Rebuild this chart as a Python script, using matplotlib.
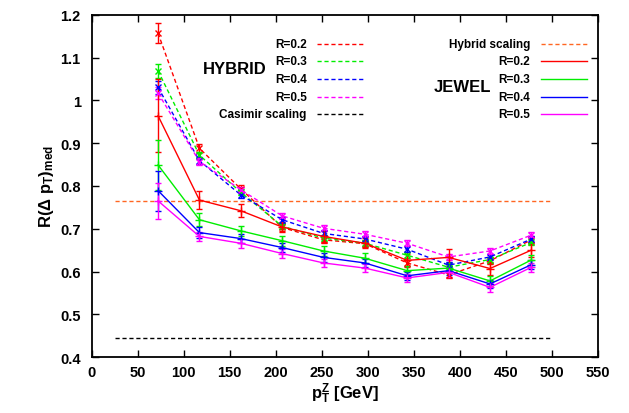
import numpy as np
import matplotlib
matplotlib.use("Agg")
import matplotlib.pyplot as plt

plt.rcParams['font.family'] = ['Liberation Sans', 'DejaVu Sans']
plt.rcParams['font.weight'] = 'bold'
plt.rcParams['mathtext.fontset'] = 'custom'
plt.rcParams['mathtext.rm'] = 'Liberation Sans:bold'
plt.rcParams['mathtext.it'] = 'Liberation Sans:bold'
plt.rcParams['mathtext.bf'] = 'Liberation Sans:bold'
plt.rcParams['mathtext.default'] = 'bf'

# pT^Z bin centres
pt = [72, 117, 162, 207, 252, 297, 343, 388, 433, 478]

# HYBRID model (dashed, x markers)
hyb_r02 = [1.157, 0.888, 0.793, 0.703, 0.674, 0.665, 0.620, 0.592, 0.625, 0.674]
hyb_r03 = [1.069, 0.872, 0.785, 0.706, 0.678, 0.666, 0.638, 0.610, 0.628, 0.668]
hyb_r04 = [1.030, 0.859, 0.779, 0.721, 0.689, 0.676, 0.652, 0.615, 0.634, 0.676]
hyb_r05 = [1.017, 0.857, 0.791, 0.730, 0.701, 0.687, 0.666, 0.634, 0.648, 0.685]
hyb_err02 = [0.024, 0.010, 0.008, 0.008, 0.008, 0.008, 0.008, 0.008, 0.008, 0.008]
hyb_err03 = [0.017, 0.008, 0.007, 0.007, 0.007, 0.007, 0.007, 0.007, 0.007, 0.007]
hyb_err04 = [0.015, 0.008, 0.007, 0.007, 0.007, 0.007, 0.007, 0.007, 0.007, 0.007]
hyb_err05 = [0.015, 0.008, 0.007, 0.007, 0.007, 0.007, 0.007, 0.007, 0.007, 0.007]

# JEWEL (solid, + markers)
jew_r02 = [0.964, 0.767, 0.742, 0.704, 0.682, 0.666, 0.626, 0.633, 0.607, 0.650]
jew_r03 = [0.849, 0.721, 0.695, 0.672, 0.648, 0.631, 0.602, 0.608, 0.578, 0.627]
jew_r04 = [0.789, 0.691, 0.677, 0.656, 0.633, 0.620, 0.590, 0.602, 0.571, 0.616]
jew_r05 = [0.765, 0.682, 0.666, 0.642, 0.620, 0.608, 0.585, 0.598, 0.563, 0.610]
jew_err02 = [0.085, 0.020, 0.015, 0.012, 0.012, 0.012, 0.015, 0.020, 0.015, 0.015]
jew_err03 = [0.058, 0.015, 0.012, 0.012, 0.012, 0.012, 0.012, 0.012, 0.012, 0.012]
jew_err04 = [0.047, 0.012, 0.010, 0.010, 0.010, 0.010, 0.010, 0.010, 0.010, 0.010]
jew_err05 = [0.042, 0.010, 0.010, 0.010, 0.010, 0.010, 0.010, 0.010, 0.010, 0.010]

# reference levels
scaling_x = [25, 500]
hybrid_scaling = 0.764
casimir_scaling = 0.444

labels = ['R=0.2', 'R=0.3', 'R=0.4', 'R=0.5']
colors = ['#ff0000', '#00ee00', '#0000ff', '#ff00ff']
dash = (0, (3, 2))

fig = plt.figure(figsize=(6.29, 4.14), dpi=100)
ax = fig.add_axes([0.146, 0.135, 0.804, 0.827])

hyb = [hyb_r02, hyb_r03, hyb_r04, hyb_r05]
hyb_err = [hyb_err02, hyb_err03, hyb_err04, hyb_err05]
jew = [jew_r02, jew_r03, jew_r04, jew_r05]
jew_err = [jew_err02, jew_err03, jew_err04, jew_err05]

# reference lines
ax.plot(scaling_x, [hybrid_scaling] * 2, color='#ff6622', lw=1, ls=dash)
ax.plot(scaling_x, [casimir_scaling] * 2, color='black', lw=1, ls=dash)

for y, e, c in zip(hyb, hyb_err, colors):
    ax.errorbar(pt, y, yerr=e, color=c, ls=dash, lw=1, marker='x', ms=5,
                mew=1, capsize=2.5, elinewidth=1)
for y, e, c in zip(jew, jew_err, colors):
    ax.errorbar(pt, y, yerr=e, color=c, ls='-', lw=1, marker='+', ms=6,
                mew=1, capsize=2.5, elinewidth=1)

ax.set_xlim(0, 550)
ax.set_ylim(0.4, 1.2)
ax.set_xticks(np.arange(0, 551, 50))
ax.set_yticks(np.arange(0.4, 1.21, 0.1))
ax.set_yticklabels(['0.4', '0.5', '0.6', '0.7', '0.8', '0.9', '1', '1.1', '1.2'])
ax.tick_params(direction='in', length=5, width=1, top=True, right=True,
               labelsize=10.5)
ax.tick_params(axis='x', pad=6)
ax.tick_params(axis='y', pad=8)
for lbl in ax.get_xticklabels() + ax.get_yticklabels():
    lbl.set_fontweight('bold')
for s in ax.spines.values():
    s.set_linewidth(1.3)

ax.set_xlabel(r'$\mathbf{p_T^Z}$ [GeV]', fontsize=12, fontweight='bold',
              labelpad=1)
ax.set_ylabel(r'R(Δ $\mathbf{p_T}$)$_\mathbf{med}$', fontsize=12,
              fontweight='bold', labelpad=3)

# gnuplot style keys, drawn in axes coordinates
def px2ax(px, py):
    return ((px - 91.7) / (598.3 - 91.7), (358.0 - py) / (358.0 - 15.6))

rows = [45, 62.3, 80, 97.7, 115]
hyb_keys = labels + ['Casimir scaling']
hyb_cols = colors + ['black']
for r, t, c in zip(rows, hyb_keys, hyb_cols):
    tx, ty = px2ax(307, r)
    ax.text(tx, ty, t, transform=ax.transAxes, ha='right', va='center',
            fontsize=8.5, fontweight='bold')
    x0, _ = px2ax(317, r)
    x1, _ = px2ax(364, r)
    ax.plot([x0, x1], [ty, ty], transform=ax.transAxes, color=c, lw=1, ls=dash)

jew_keys = ['Hybrid scaling'] + labels
jew_cols = ['#ff6622'] + colors
jew_ls = [dash, '-', '-', '-', '-']
for r, t, c, l in zip(rows, jew_keys, jew_cols, jew_ls):
    tx, ty = px2ax(531, r)
    ax.text(tx, ty, t, transform=ax.transAxes, ha='right', va='center',
            fontsize=8.5, fontweight='bold')
    x0, _ = px2ax(542, r)
    x1, _ = px2ax(588, r)
    ax.plot([x0, x1], [ty, ty], transform=ax.transAxes, color=c, lw=1, ls=l)

tx, ty = px2ax(267, 69.5)
ax.text(tx, ty, 'HYBRID', transform=ax.transAxes, ha='right', va='center',
        fontsize=12, fontweight='bold')
tx, ty = px2ax(492, 87)
ax.text(tx, ty, 'JEWEL', transform=ax.transAxes, ha='right', va='center',
        fontsize=12, fontweight='bold')

fig.savefig('out.png', dpi=100)
